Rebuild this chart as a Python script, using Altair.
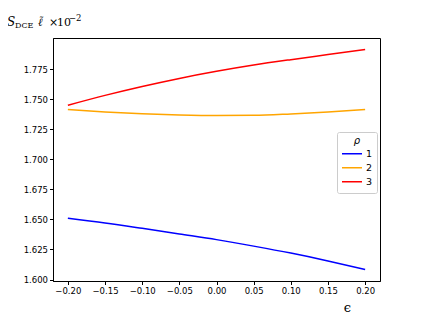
import altair as alt
import pandas as pd

eps = [-0.20, -0.15, -0.10, -0.05, 0.00, 0.05, 0.10, 0.15, 0.20]
rho1 = [1.6510, 1.6471, 1.6426, 1.6379, 1.6332, 1.6278, 1.6220, 1.6155, 1.6084]
rho2 = [1.7413, 1.7393, 1.7378, 1.7368, 1.7363, 1.7365, 1.7377, 1.7393, 1.7413]
rho3 = [1.7449, 1.7531, 1.7605, 1.7672, 1.7731, 1.7783, 1.7828, 1.7870, 1.7912]
series = ["1", "2", "3"]
colors = ["#0000ff", "#ffa500", "#ff0000"]
xticks = [-0.20, -0.15, -0.10, -0.05, 0.00, 0.05, 0.10, 0.15, 0.20]
yticks = [1.600, 1.625, 1.650, 1.675, 1.700, 1.725, 1.750, 1.775]

# pieces of the y-axis title: S_DCE ℓ̃ × 10^-2
title_text = ["S", "DCE", "ℓ", "˜", "×", "10", "−2"]
title_size = [12, 8, 11, 10, 11, 11, 8.5]
title_style = ["italic", "normal", "italic", "normal", "normal", "normal", "normal"]

rows = []
for name, vals in zip(series, [rho1, rho2, rho3]):
    for e, v in zip(eps, vals):
        rows.append({"eps": e, "S": v, "rho": name})
df = pd.DataFrame(rows)

lines = alt.Chart(df).mark_line(strokeWidth=1.5, interpolate="monotone").encode(
    x=alt.X("eps:Q",
            scale=alt.Scale(domain=[-0.22, 0.22], nice=False, zero=False),
            axis=alt.Axis(values=xticks, format=".2f", title="ϵ",
                          titleX=294, titleY=30, titleBaseline="alphabetic",
                          titleFont="DejaVu Serif",
                          titleFontSize=13, titleFontWeight="normal",
                          titleAnchor="middle", titleAlign="center")),
    y=alt.Y("S:Q",
            scale=alt.Scale(domain=[1.5988, 1.8008], nice=False, zero=False),
            axis=alt.Axis(values=yticks, format=".3f", title=None)),
    color=alt.Color("rho:N", scale=alt.Scale(domain=series, range=colors),
                    legend=alt.Legend(title="ρ", orient="none", legendX=284, legendY=94,
                                      symbolType="stroke", symbolSize=400,
                                      symbolStrokeWidth=1.5,
                                      titleFontStyle="italic", titleFontWeight="normal",
                                      titleFont="DejaVu Sans", titleFontSize=10,
                                      titleAnchor="middle", titlePadding=1,
                                      labelFont="DejaVu Sans", labelFontSize=9.5,
                                      labelOffset=3, clipHeight=13.5,
                                      strokeColor="#cccccc", cornerRadius=2,
                                      padding=4, rowPadding=0, fillColor="white")),
)

title_df = pd.DataFrame({"t": title_text,
                         "xp": [-46, -38, -15, -14, -4, 4, 16],
                         "yp": [-12, -10, -12, -14, -12, -12, -17],
                         "fs": title_size,
                         "st": title_style})
title_parts = []
for i in range(len(title_df)):
    sub = title_df.iloc[[i]]
    title_parts.append(
        alt.Chart(sub).mark_text(align="left", baseline="alphabetic", font="DejaVu Serif",
                                 fontSize=float(sub["fs"].iloc[0]),
                                 fontStyle=sub["st"].iloc[0], color="black").encode(
            text="t:N",
            x=alt.value(float(sub["xp"].iloc[0])),
            y=alt.value(float(sub["yp"].iloc[0])))
    )

chart = alt.layer(lines, *title_parts).properties(
    width=327, height=243,
    autosize=alt.AutoSizeParams(type="none"),
    padding={"left": 45, "top": 30, "right": 35, "bottom": 36},
).configure_view(stroke="black", strokeWidth=1).configure_axis(
    grid=False, domainColor="black", tickColor="black", labelColor="black",
    labelFont="DejaVu Sans", labelFontSize=8.5, tickSize=3.5, labelPadding=2,
    domainWidth=1,
)

chart.save("out.html", embed_options={"renderer": "svg", "actions": False})
